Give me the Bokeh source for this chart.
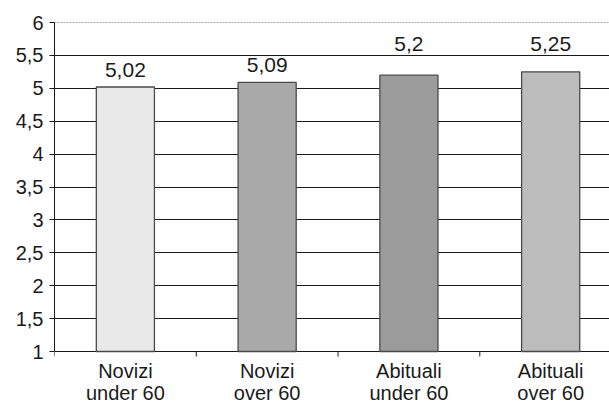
from bokeh.plotting import figure
from bokeh.models import ColumnDataSource, Range1d, FixedTicker, CustomJSTickFormatter, LabelSet, LinearAxis, Span
from bokeh.core.properties import value
from bokeh.embed import file_html
from bokeh.resources import INLINE

categories = ["Novizi\nunder 60", "Novizi\nover 60", "Abituali\nunder 60", "Abituali\nover 60"]
values = [5.02, 5.09, 5.2, 5.25]
bar_colors = ["#e8e8e8", "#a9a9a9", "#9b9b9b", "#bcbcbc"]
y_ticks = [1, 1.5, 2, 2.5, 3, 3.5, 4, 4.5, 5, 5.5, 6]

FONT = "Liberation Sans"
Y0, Y1 = y_ticks[0], y_ticks[-1]

# layout: value-axis spans 329 px, frame 382 px tall (room for category text inside frame)
PX_PER_UNIT = 329 / (Y1 - Y0)
Y_START = Y1 - 382 / PX_PER_UNIT
TICK = 5 / PX_PER_UNIT

xs = list(range(1, len(categories) + 1))
labels = [("%g" % v).replace(".", ",") for v in values]
line1 = [c.split("\n")[0] for c in categories]
line2 = [c.split("\n")[1] for c in categories]


def label_baseline(top):
    # place the value label 10 px above the bar; if it would cross a grid line, lift it above that line
    base = top + 10 / PX_PER_UNIT
    cap = base + 15 / PX_PER_UNIT
    for g in y_ticks:
        if base - 3 / PX_PER_UNIT < g < cap:
            base = g + 4 / PX_PER_UNIT
    return base


label_y = [label_baseline(v) for v in values]
src = ColumnDataSource(dict(x=xs, top=values, color=bar_colors, label=labels, ly=label_y,
                            l1=line1, l2=line2, base=[Y0] * len(xs)))
bounds = [i + 0.5 for i in range(0, len(xs) + 1)]
tsrc = ColumnDataSource(dict(x=bounds, y0=[Y0] * len(bounds), y1=[Y0 - TICK] * len(bounds)))

p = figure(width=609, height=404, output_backend="svg", toolbar_location=None,
           x_range=Range1d(0.5, 4.415), y_range=Range1d(Y_START, Y1),
           min_border_left=54, min_border_right=0, min_border_top=22, min_border_bottom=0,
           x_axis_location=None, y_axis_location=None)
p.outline_line_color = None
p.background_fill_color = "white"
p.border_fill_color = "white"

p.xgrid.visible = False
p.ygrid.ticker = FixedTicker(ticks=y_ticks[:-1])
p.ygrid.grid_line_color = "#1a1a1a"
p.ygrid.grid_line_width = 1

top_line = Span(location=Y1, dimension="width", line_color="#555555", line_width=1,
                line_dash="2 1")
p.add_layout(top_line)

p.vbar(x="x", top="top", bottom=Y0, width=0.41, fill_color="color",
       line_color="#4a4a4a", line_width=1.3, source=src)

# category separator ticks below the base line
p.segment(x0="x", y0="y0", x1="x", y1="y1", source=tsrc, line_color="#1a1a1a", line_width=1)

yaxis = LinearAxis(ticker=FixedTicker(ticks=y_ticks), bounds=(Y0, Y1),
                   formatter=CustomJSTickFormatter(code="return tick.toString().replace('.', ',');"))
yaxis.axis_line_color = "#1a1a1a"
yaxis.major_tick_line_color = "#1a1a1a"
yaxis.major_tick_out = 5
yaxis.major_tick_in = 0
yaxis.minor_tick_line_color = None
yaxis.major_label_standoff = 6
yaxis.major_label_text_font = FONT
yaxis.major_label_text_font_size = "20px"
yaxis.major_label_text_color = "#1a1a1a"
p.add_layout(yaxis, "left")

for field, off in (("l1", -8), ("l2", -30)):
    cat_lbl = LabelSet(x="x", y="base", text=field, source=src, text_align="center",
                       text_baseline="top", y_offset=off, text_font=value(FONT),
                       text_font_size="20px", text_color="#1a1a1a")
    p.add_layout(cat_lbl)

lbl = LabelSet(x="x", y="ly", text="label", source=src, text_align="center",
               text_baseline="alphabetic", text_font=value(FONT),
               text_font_size="21px", text_color="#1a1a1a")
p.add_layout(lbl)

open("out.html", "w").write(file_html(p, INLINE))
